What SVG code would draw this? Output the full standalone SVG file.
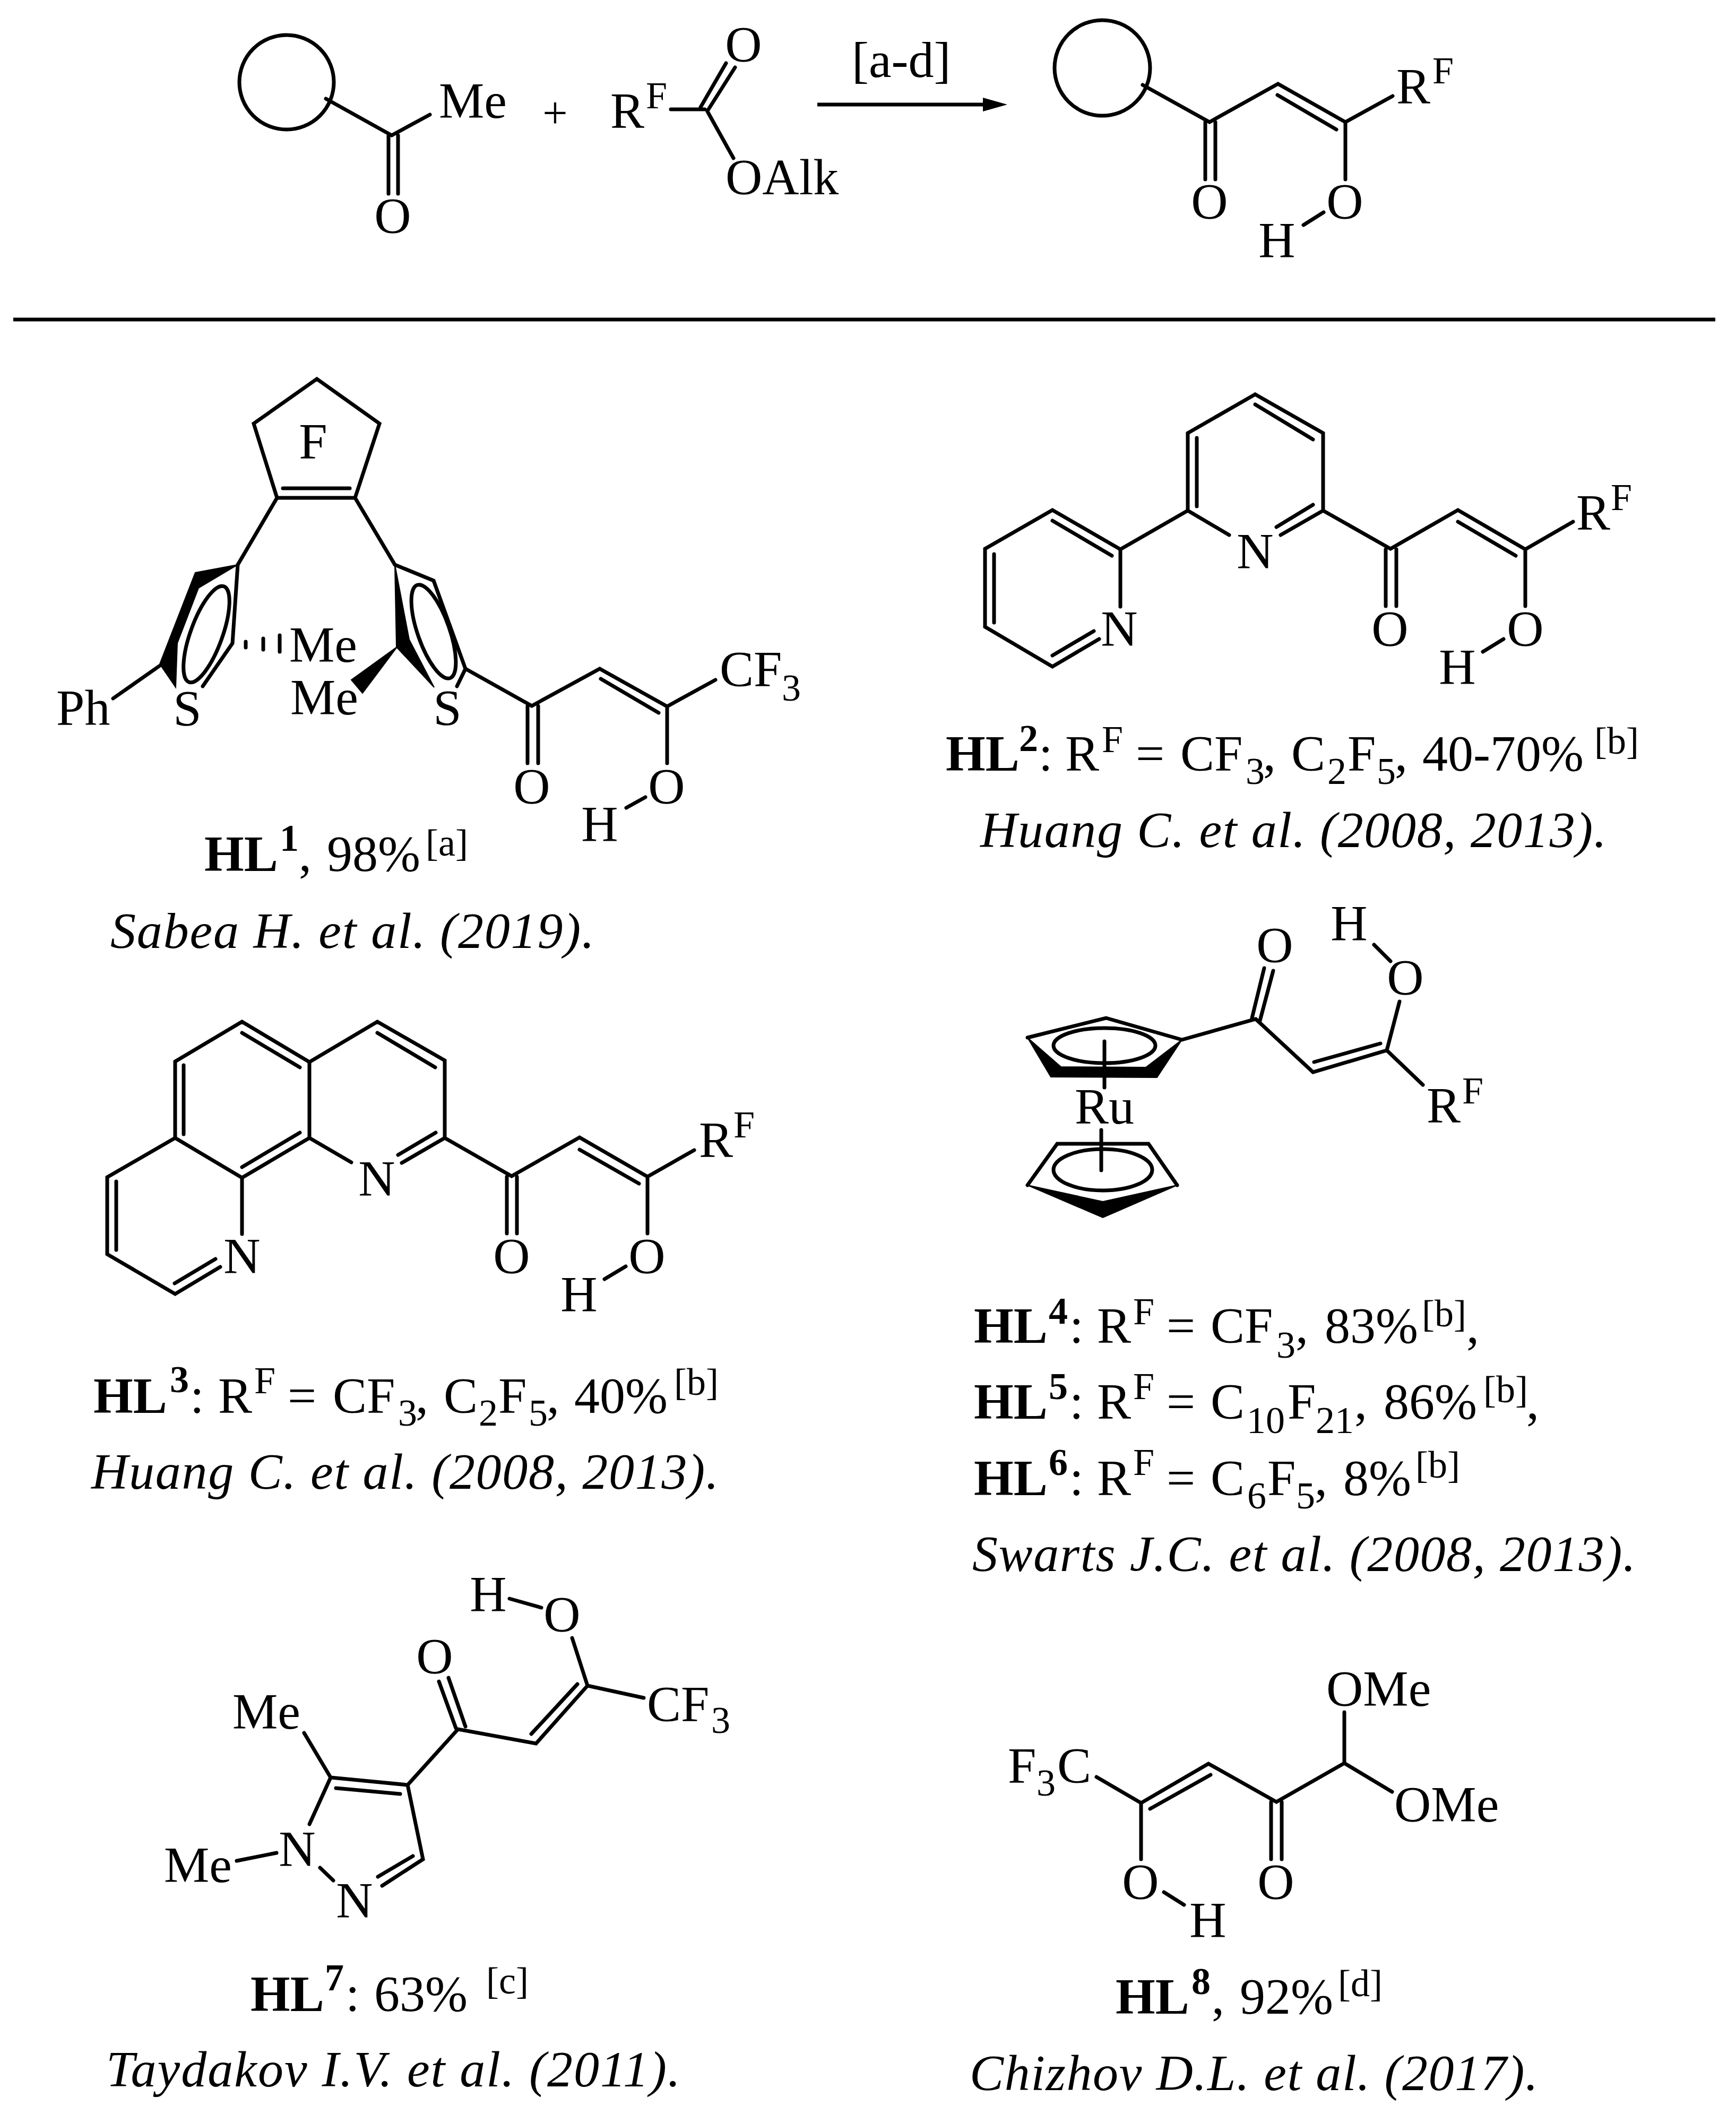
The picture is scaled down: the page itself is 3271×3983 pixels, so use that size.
<svg xmlns="http://www.w3.org/2000/svg" width="3271" height="3983" viewBox="0 0 3271 3983">
<style>
text{font-family:"Liberation Serif","Times New Roman",serif;font-size:96px;fill:#000}
.m{text-anchor:middle}
.s{font-size:72px}
.p{font-size:84px}
.h{font-weight:bold}
.i{font-style:italic}
.b{fill:none;stroke:#000;stroke-width:7;stroke-linecap:round;stroke-linejoin:miter}
.f{fill:#000;stroke:#000;stroke-width:2;stroke-linejoin:miter}
</style>
<defs>
<marker id="head" markerUnits="userSpaceOnUse" markerWidth="46" markerHeight="26" refX="3" refY="13" orient="auto"><path d="M0,0 L46,13 L0,26 Z" fill="#000"/></marker>
</defs>
<rect width="3271" height="3983" fill="#fff"/>
<g id="connectors">
<path id="reaction-arrow" d="M1540,197 H1855" fill="none" stroke="#000" stroke-width="7" marker-end="url(#head)"/>
<path id="divider" d="M25,602 H3232" fill="none" stroke="#000" stroke-width="7"/>
</g>
<g id="reactant-ketone">
<circle class="b" cx="540" cy="155" r="89"/>
<path class="b" d="M614,186 L738,255 L810,216 M732,255 V365 M750,255 V365"/>
<text x="827" y="222">Me</text>
<text class="m" x="740" y="439">O</text>
</g>
<text id="plus" class="m p" x="1046" y="241">+</text>
<g id="reactant-ester">
<path class="b" d="M1264,206 H1328 M1320,202 L1368,119 M1333,209 L1385,127 M1333,210 L1382,298"/>
<text x="1150" y="241">R</text><text class="s" x="1217" y="204">F</text>
<text class="m" x="1401" y="116">O</text>
<text x="1367" y="366">OAlk</text>
</g>
<text id="conditions" x="1605" y="145">[a-d]</text>
<g id="product">
<circle class="b" cx="2077" cy="128" r="90"/>
<path class="b" d="M2153,160 L2279,230 L2408,158 L2535,230 L2624,181 M2407,179 L2518,244 M2535,230 V338 M2271,230 V338 M2290,230 V338 M2494,400 L2456,424"/>
<text class="m" x="2279" y="412">O</text><text class="m" x="2534" y="412">O</text>
<text class="m" x="2406" y="485">H</text>
<text x="2631" y="195">R</text><text class="s" x="2699" y="157">F</text>
</g>
<g id="HL1">
<path class="b" d="M478,798 L597,714 L715,798 L669,938 H522 Z M533,920 H659 M522,938 L448,1064 M669,938 L744,1064 M448,1064 L438,1212 L382,1293 M213,1316 L300,1255 M744,1064 L817,1094 L877,1260 L861,1293 M877,1260 L1002,1330 L1130,1260 L1257,1331 L1348,1281 M1132,1279 L1241,1343 M994,1330 V1438 M1014,1330 V1438 M1257,1331 V1438 M1216,1502 L1180,1522 M463,1209 V1220 M496,1203 V1224 M527,1197 V1228"/>
<polygon class="f" points="448,1064 368,1079 301,1251 331,1295 334,1212 374,1108"/>
<polygon class="f" points="744,1064 747,1219 818,1295 771,1205"/>
<polygon class="f" points="749,1218 662,1281 683,1306"/>
<ellipse class="b" cx="389" cy="1195" rx="30" ry="96" transform="rotate(20 389 1195)"/>
<ellipse class="b" cx="817" cy="1190" rx="30" ry="93" transform="rotate(-19.4 817 1190)"/>
<text class="m" x="590" y="864">F</text>
<text x="106" y="1366">Ph</text>
<text class="m" x="353" y="1367">S</text><text class="m" x="843" y="1366">S</text>
<text x="545" y="1247">Me</text><text x="547" y="1346">Me</text>
<text x="1356" y="1293">CF<tspan class="s" x="1473" y="1320">3</tspan></text>
<text class="m" x="1002" y="1514">O</text><text class="m" x="1256" y="1514">O</text>
<text class="m" x="1130" y="1585">H</text>
<text y="1641"><tspan class="h" x="385">HL</tspan><tspan class="h s" x="527" y="1603">1</tspan><tspan x="563" y="1641">, </tspan><tspan x="616" y="1641">98%</tspan><tspan class="s" x="802" y="1612">[a]</tspan></text>
<text class="i" x="208" y="1786" textLength="912">Sabea H. et al. (2019).</text>
</g>
<g id="HL2">
<path class="b" d="M2365,743 L2493,816 V962 M2365,743 L2238,816 V962 L2316,1008 M2365,762 L2474,828 M2255,825 V954 M2474,951 L2405,993 M2493,962 L2413,1008 M2238,962 L2111,1035 L1983,961 L1856,1034 V1181 L1983,1256 L2071,1204 M1983,981 L2095,1047 M1873,1044 V1173 M1983,1235 L2061,1189 M2111,1035 V1143 M2493,962 L2620,1034 L2747,961 L2874,1035 L2964,983 M2747,983 L2856,1047 M2611,1035 V1142 M2631,1035 V1142 M2874,1035 V1142 M2833,1204 L2794,1228"/>
<text class="m" x="2365" y="1071">N</text><text class="m" x="2109" y="1217">N</text>
<text class="m" x="2619" y="1217">O</text><text class="m" x="2874" y="1217">O</text>
<text class="m" x="2746" y="1289">H</text>
<text x="2970" y="998">R</text><text class="s" x="3035" y="961">F</text>
<text y="1452"><tspan class="h" x="1782">HL</tspan><tspan class="h s" x="1920" y="1415">2</tspan><tspan x="1957" y="1452">: </tspan><tspan x="2007" y="1452">R</tspan><tspan class="s" x="2076" y="1417">F </tspan><tspan x="2140" y="1452">= </tspan><tspan x="2224" y="1452">CF</tspan><tspan class="s" x="2347" y="1477">3</tspan><tspan x="2380" y="1452">, </tspan><tspan x="2433" y="1452">C</tspan><tspan class="s" x="2501" y="1477">2</tspan><tspan x="2539" y="1452">F</tspan><tspan class="s" x="2594" y="1477">5</tspan><tspan x="2628" y="1452">, </tspan><tspan x="2680" y="1452">40-70%</tspan><tspan class="s" x="3004" y="1420">[b]</tspan></text>
<text class="i" x="1847" y="1596" textLength="1180">Huang C. et al. (2008, 2013).</text>
</g>
<g id="HL3">
<path class="b" d="M456,1925 L583,2001 L711,1925 L838,1998 V2144 M456,1946 L565,2011 M711,1946 L820,2011 M583,2001 V2144 M330,2000 L456,1925 M330,2000 V2144 L456,2219 L583,2144 M346,2007 V2137 M456,2199 L565,2134 M330,2144 L202,2218 V2363 L330,2438 L415,2387 M219,2226 V2355 M329,2418 L406,2372 M456,2219 V2325 M583,2144 L662,2190 M838,2144 L757,2191 M821,2134 L750,2176 M838,2144 L964,2216 L1092,2143 L1220,2217 L1308,2167 M1092,2166 L1204,2230 M955,2217 V2324 M974,2217 V2324 M1220,2217 V2324 M1179,2386 L1139,2410"/>
<text class="m" x="456" y="2399">N</text><text class="m" x="710" y="2253">N</text>
<text class="m" x="964" y="2399">O</text><text class="m" x="1219" y="2399">O</text>
<text class="m" x="1091" y="2471">H</text>
<text x="1317" y="2180">R</text><text class="s" x="1382" y="2143">F</text>
<text y="2662"><tspan class="h" x="176">HL</tspan><tspan class="h s" x="320" y="2623">3</tspan><tspan x="358" y="2662">: </tspan><tspan x="411" y="2662">R</tspan><tspan class="s" x="479" y="2625">F </tspan><tspan x="542" y="2662">= </tspan><tspan x="627" y="2662">CF</tspan><tspan class="s" x="750" y="2686">3</tspan><tspan x="783" y="2662">, </tspan><tspan x="836" y="2662">C</tspan><tspan class="s" x="902" y="2686">2</tspan><tspan x="939" y="2662">F</tspan><tspan class="s" x="996" y="2686">5</tspan><tspan x="1030" y="2662">, </tspan><tspan x="1082" y="2662">40%</tspan><tspan class="s" x="1270" y="2628">[b]</tspan></text>
<text class="i" x="172" y="2805" textLength="1182">Huang C. et al. (2008, 2013).</text>
</g>
<g id="HL4-6">
<path class="b" d="M1936,1955 L2084,1918 L2227,1959 M2227,1959 L2366,1920 L2474,2020 L2613,1979 L2681,2044 M2476,2001 L2601,1966 M2359,1918 L2382,1824 M2374,1923 L2399,1829 M2613,1979 L2637,1887 M2589,1780 L2620,1811 M2081,1962 V2049 M2075,2129 V2205 M1936,2233 L1992,2155 H2164 L2218,2233"/>
<polygon class="f" points="1936,1955 1980,2029 2180,2030 2227,1959 2159,2011 1999,2010"/>
<polygon class="f" points="1936,2233 2078,2294 2218,2233 2078,2264"/>
<ellipse class="b" cx="2081" cy="1970" rx="96" ry="33"/>
<ellipse class="b" cx="2078" cy="2204" rx="93" ry="39"/>
<text class="m" x="2081" y="2117">Ru</text>
<text class="m" x="2402" y="1813">O</text><text class="m" x="2648" y="1874">O</text>
<text class="m" x="2542" y="1772">H</text>
<text x="2688" y="2115">R</text><text class="s" x="2755" y="2079">F</text>
<text y="2530"><tspan class="h" x="1835">HL</tspan><tspan class="h s" x="1976" y="2494">4</tspan><tspan x="2015" y="2530">: </tspan><tspan x="2067" y="2530">R</tspan><tspan class="s" x="2135" y="2495">F </tspan><tspan x="2198" y="2530">= </tspan><tspan x="2281" y="2530">CF</tspan><tspan class="s" x="2405" y="2558">3</tspan><tspan x="2441" y="2530">, </tspan><tspan x="2496" y="2530">83%</tspan><tspan class="s" x="2679" y="2499">[b]</tspan><tspan x="2763" y="2530">,</tspan></text>
<text y="2673"><tspan class="h" x="1835">HL</tspan><tspan class="h s" x="1976" y="2636">5</tspan><tspan x="2015" y="2673">: </tspan><tspan x="2067" y="2673">R</tspan><tspan class="s" x="2135" y="2636">F </tspan><tspan x="2198" y="2673">= </tspan><tspan x="2281" y="2673">C</tspan><tspan class="s" x="2349" y="2700">10</tspan><tspan x="2426" y="2673">F</tspan><tspan class="s" x="2479" y="2700">21</tspan><tspan x="2552" y="2673">, </tspan><tspan x="2607" y="2673">86%</tspan><tspan class="s" x="2795" y="2642">[b]</tspan><tspan x="2876" y="2673">,</tspan></text>
<text y="2817"><tspan class="h" x="1835">HL</tspan><tspan class="h s" x="1976" y="2779">6</tspan><tspan x="2015" y="2817">: </tspan><tspan x="2067" y="2817">R</tspan><tspan class="s" x="2135" y="2779">F </tspan><tspan x="2198" y="2817">= </tspan><tspan x="2281" y="2817">C</tspan><tspan class="s" x="2350" y="2842">6</tspan><tspan x="2388" y="2817">F</tspan><tspan class="s" x="2442" y="2842">5</tspan><tspan x="2477" y="2817">, </tspan><tspan x="2531" y="2817">8%</tspan><tspan class="s" x="2667" y="2784">[b]</tspan></text>
<text class="i" x="1832" y="2960" textLength="1250">Swarts J.C. et al. (2008, 2013).</text>
</g>
<g id="HL7">
<path class="b" d="M960,3012 L1020,3029 M1078,3086 L1107,3176 L1213,3199 M1107,3176 L1010,3285 L863,3258 L768,3363 L623,3349 L573,3265 M1088,3173 L1001,3267 M827,3168 L859,3256 M845,3161 L877,3253 M754,3380 L633,3369 M623,3349 L583,3437 M768,3363 L797,3503 L720,3553 M778,3497 L712,3536 M603,3519 L628,3543 M446,3506 L521,3491"/>
<text class="m" x="920" y="3036">H</text>
<text class="m" x="1059" y="3074">O</text><text class="m" x="819" y="3153">O</text>
<text x="1219" y="3243">CF<tspan class="s" x="1340" y="3265">3</tspan></text>
<text x="438" y="3257">Me</text><text x="309" y="3546">Me</text>
<text class="m" x="560" y="3516">N</text><text class="m" x="668" y="3613">N</text>
<text y="3789"><tspan class="h" x="472">HL</tspan><tspan class="h s" x="612" y="3750">7</tspan><tspan x="651" y="3789">: </tspan><tspan x="705" y="3789">63% </tspan><tspan class="s" x="916" y="3756">[c]</tspan></text>
<text class="i" x="200" y="3931" textLength="1082">Taydakov I.V. et al. (2011).</text>
</g>
<g id="HL8">
<path class="b" d="M2533,3226 V3322 L2623,3376 M2533,3322 L2405,3395 L2277,3323 L2150,3397 L2066,3348 M2281,3344 L2167,3408 M2150,3397 V3503 M2395,3395 V3503 M2415,3395 V3503 M2193,3565 L2231,3589"/>
<text x="2499" y="3214">OMe</text><text x="2627" y="3432">OMe</text>
<text x="1899" y="3359">F<tspan class="s" x="1953" y="3383">3</tspan><tspan x="1992" y="3359">C</tspan></text>
<text class="m" x="2149" y="3578">O</text><text class="m" x="2404" y="3578">O</text>
<text class="m" x="2276" y="3650">H</text>
<text y="3794"><tspan class="h" x="2102">HL</tspan><tspan class="h s" x="2245" y="3757">8</tspan><tspan x="2283" y="3794">, </tspan><tspan x="2336" y="3794">92%</tspan><tspan class="s" x="2521" y="3761">[d]</tspan></text>
<text class="i" x="1827" y="3938" textLength="1071">Chizhov D.L. et al. (2017).</text>
</g>
</svg>
